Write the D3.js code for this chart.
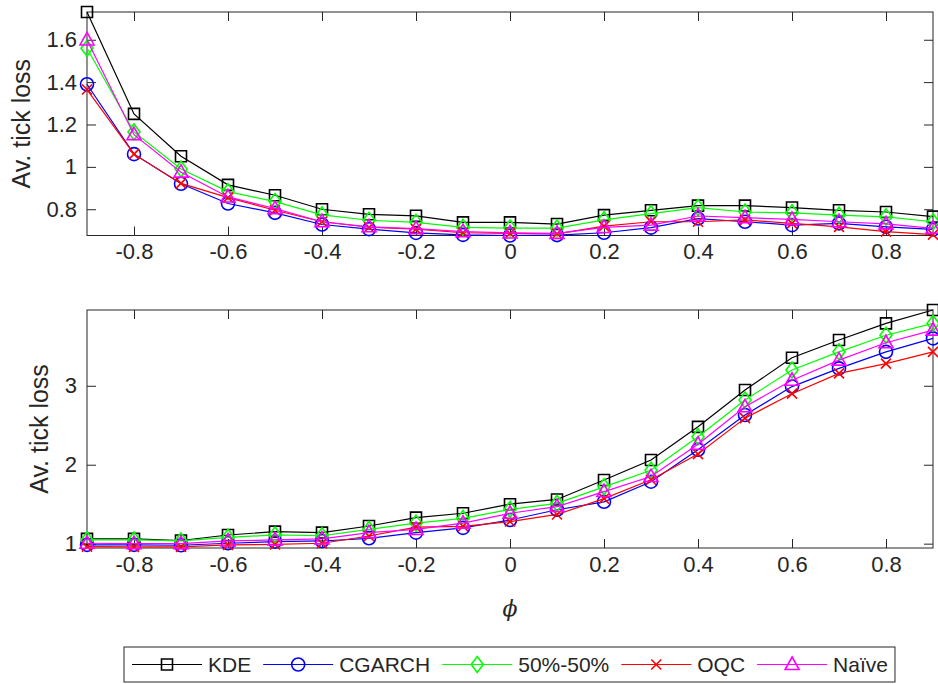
<!DOCTYPE html>
<html>
<head>
<meta charset="utf-8">
<script src="https://cdn.jsdelivr.net/npm/d3@7"></script>
<style>
  body { margin: 0; background: #fff; }
  text { font-family: "Liberation Sans", Arial, sans-serif; fill: #262626; }
</style>
</head>
<body>
<script>
var svgWidth = 938;
var svgHeight = 684;

// phi values on the x axis
var phi = [-0.9, -0.8, -0.7, -0.6, -0.5, -0.4, -0.3, -0.2, -0.1, 0, 0.1, 0.2, 0.3, 0.4, 0.5, 0.6, 0.7, 0.8, 0.9];
var xTicks = [-0.8, -0.6, -0.4, -0.2, 0, 0.2, 0.4, 0.6, 0.8];

// upper panel
var kdeTop    = [1.731, 1.25, 1.05, 0.915, 0.866, 0.800, 0.776, 0.769, 0.738, 0.738, 0.730, 0.772, 0.795, 0.817, 0.817, 0.808, 0.795, 0.787, 0.765];
var cgarchTop = [1.390, 1.06, 0.92, 0.827, 0.783, 0.728, 0.706, 0.688, 0.679, 0.676, 0.678, 0.689, 0.713, 0.756, 0.741, 0.725, 0.733, 0.717, 0.705];
var mixTop    = [1.560, 1.165, 0.99, 0.883, 0.836, 0.773, 0.748, 0.738, 0.714, 0.711, 0.711, 0.750, 0.779, 0.808, 0.787, 0.783, 0.772, 0.764, 0.741];
var oqcTop    = [1.365, 1.06, 0.922, 0.855, 0.795, 0.741, 0.715, 0.706, 0.689, 0.686, 0.684, 0.720, 0.741, 0.741, 0.750, 0.733, 0.717, 0.694, 0.680];
var naiveTop  = [1.599, 1.152, 0.975, 0.858, 0.803, 0.741, 0.717, 0.708, 0.694, 0.688, 0.686, 0.714, 0.725, 0.768, 0.760, 0.752, 0.741, 0.731, 0.710];
var yTicksTop = [0.8, 1, 1.2, 1.4, 1.6];

// lower panel
var kdeBot    = [1.060, 1.060, 1.040, 1.110, 1.152, 1.140, 1.224, 1.330, 1.385, 1.500, 1.560, 1.806, 2.060, 2.480, 2.946, 3.355, 3.580, 3.790, 3.960];
var cgarchBot = [0.984, 0.984, 0.980, 1.005, 1.025, 1.034, 1.068, 1.140, 1.200, 1.300, 1.430, 1.530, 1.785, 2.190, 2.630, 2.990, 3.220, 3.430, 3.600];
var mixBot    = [1.047, 1.047, 1.035, 1.080, 1.110, 1.100, 1.180, 1.260, 1.320, 1.435, 1.510, 1.720, 1.930, 2.355, 2.820, 3.200, 3.430, 3.640, 3.790];
var oqcBot    = [0.962, 0.960, 0.960, 0.984, 0.990, 1.005, 1.097, 1.210, 1.220, 1.280, 1.370, 1.570, 1.810, 2.135, 2.590, 2.900, 3.157, 3.280, 3.430];
var naiveBot  = [1.005, 1.000, 1.000, 1.034, 1.047, 1.060, 1.140, 1.180, 1.260, 1.385, 1.470, 1.660, 1.850, 2.260, 2.734, 3.070, 3.325, 3.545, 3.705];
var yTicksBot = [1, 2, 3];

var seriesNames = ["KDE", "CGARCH", "50%-50%", "OQC", "Naïve"];
var seriesColors = ["#000000", "#0000ff", "#00ff00", "#ff0000", "#ff00ff"];
var seriesMarkers = ["square", "circle", "diamond", "cross", "triangle"];

var axisColor = "#262626";

var svg = d3.select("body").append("svg")
    .attr("width", svgWidth)
    .attr("height", svgHeight);

// marker shapes, centred on 0,0
function markerPath(type) {
    switch (type) {
        case "square": return "M-5.5,-5.5H5.5V5.5H-5.5Z";
        case "circle": return "M-6.5,0A6.5,6.5 0 1,0 6.5,0A6.5,6.5 0 1,0 -6.5,0Z";
        case "diamond": return "M0,-8L6,0L0,8L-6,0Z";
        case "cross": return "M-5,-5L5,5M-5,5L5,-5";
        case "triangle": return "M0,-7.5L7,5L-7,5Z";
    }
}

var fmt = d => (Math.abs(d) < 1e-9 ? "0" : String(+d.toFixed(1)));

var xScale = d3.scaleLinear().domain([-0.9, 0.9]).range([87, 933]);

function drawPanel(top, bottom, yDomain, yTicks, data, labelX) {
    var yScale = d3.scaleLinear().domain(yDomain).range([bottom, top]);
    var g = svg.append("g");

    // ticks on all four sides, pointing inward
    g.append("g")
        .attr("transform", `translate(0,${bottom})`)
        .call(d3.axisBottom(xScale).tickValues(xTicks).tickSize(-9).tickSizeOuter(0).tickPadding(8).tickFormat(fmt));
    g.append("g")
        .attr("transform", `translate(0,${top})`)
        .call(d3.axisTop(xScale).tickValues(xTicks).tickSize(-9).tickSizeOuter(0).tickFormat(""));
    g.append("g")
        .attr("transform", `translate(87,0)`)
        .call(d3.axisLeft(yScale).tickValues(yTicks).tickSize(-9).tickSizeOuter(0).tickPadding(10).tickFormat(fmt));
    g.append("g")
        .attr("transform", `translate(933,0)`)
        .call(d3.axisRight(yScale).tickValues(yTicks).tickSize(-9).tickSizeOuter(0).tickFormat(""));

    g.selectAll(".domain").remove();
    g.selectAll(".tick line").attr("stroke", axisColor);
    g.selectAll(".tick text").style("font-size", "22px").attr("fill", axisColor);

    g.append("rect")
        .attr("x", 87).attr("y", top)
        .attr("width", 933 - 87).attr("height", bottom - top)
        .attr("fill", "none").attr("stroke", axisColor).attr("stroke-width", 1);

    g.append("text")
        .attr("transform", `translate(${labelX},${(top + bottom) / 2}) rotate(-90)`)
        .attr("text-anchor", "middle")
        .style("font-size", "25px")
        .text("Av. tick loss");

    var line = d3.line()
        .x((d, i) => xScale(phi[i]))
        .y(d => yScale(d));

    data.forEach((vals, k) => {
        g.append("path")
            .datum(vals)
            .attr("d", line)
            .attr("fill", "none")
            .attr("stroke", seriesColors[k])
            .attr("stroke-width", 1.2);

        g.selectAll(".m" + k)
            .data(vals)
            .enter()
            .append("path")
            .attr("class", "m" + k)
            .attr("transform", (d, i) => `translate(${xScale(phi[i])},${yScale(d)})`)
            .attr("d", markerPath(seriesMarkers[k]))
            .attr("fill", "none")
            .attr("stroke", seriesColors[k])
            .attr("stroke-width", 1.6);
    });
}

drawPanel(12, 235.5, [0.676, 1.731], yTicksTop, [kdeTop, cgarchTop, mixTop, oqcTop, naiveTop], 30);
drawPanel(310, 548, [0.945, 3.96], yTicksBot, [kdeBot, cgarchBot, mixBot, oqcBot, naiveBot], 48);

// x label
svg.append("text")
    .attr("x", 510).attr("y", 616)
    .attr("text-anchor", "middle")
    .style("font-family", "'DejaVu Serif', serif")
    .style("font-style", "italic")
    .style("font-size", "22px")
    .text("ϕ");

// legend
var legend = svg.append("g");
var legendBox = legend.append("rect")
    .attr("x", 124).attr("y", 647)
    .attr("height", 35)
    .attr("fill", "#fff")
    .attr("stroke", axisColor)
    .attr("stroke-width", 1);

var cursor = 132;
var ly = 664.5;
seriesNames.forEach((name, k) => {
    legend.append("line")
        .attr("x1", cursor).attr("x2", cursor + 70)
        .attr("y1", ly).attr("y2", ly)
        .attr("stroke", seriesColors[k]).attr("stroke-width", 1.2);
    legend.append("path")
        .attr("transform", `translate(${cursor + 35},${ly})`)
        .attr("d", markerPath(seriesMarkers[k]))
        .attr("fill", "none")
        .attr("stroke", seriesColors[k]).attr("stroke-width", 1.6);
    var t = legend.append("text")
        .attr("x", cursor + 76).attr("y", ly + 7.5)
        .style("font-size", "21px")
        .attr("fill", "#000")
        .text(name);
    cursor += 76 + t.node().getComputedTextLength() + 12;
});
legendBox.attr("width", cursor - 5 - 124);
</script>
</body>
</html>
